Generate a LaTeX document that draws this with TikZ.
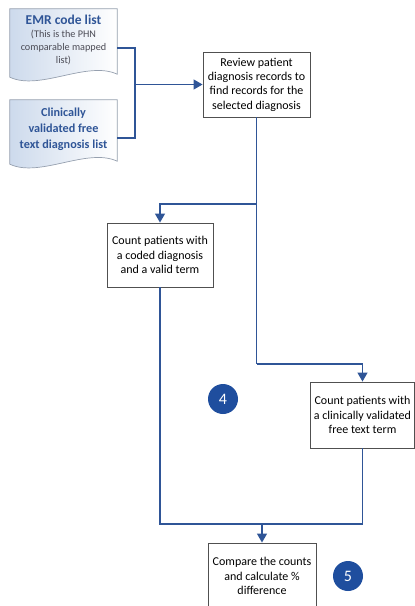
\documentclass[tikz,border=0pt]{standalone}
\usepackage{fontspec}
\setmainfont{Carlito}
\usetikzlibrary{arrows.meta,calc,backgrounds}

\definecolor{flowblue}{RGB}{47,85,151}
\definecolor{dotblue}{RGB}{31,78,158}
\definecolor{docedge}{RGB}{150,160,175}
\definecolor{docshade}{RGB}{205,218,236}
\definecolor{boxedge}{RGB}{80,80,80}
\definecolor{notegray}{RGB}{75,75,85}

\tikzset{
  stepbox/.style={draw=boxedge, line width=0.9pt, fill=white, align=center,
    inner sep=1pt, font=\fontsize{12}{14.3}\selectfont},
  doctext/.style={align=center, text=flowblue, inner sep=0pt},
  docline/.style={draw=docedge, line width=0.7pt, left color=docshade, right color=white},
  link/.style={draw=flowblue, line width=1.4pt},
  arrowlink/.style={link, -{Triangle[length=9pt,width=10pt]}},
  badge/.style={circle, fill=dotblue, text=white, minimum size=30pt, inner sep=0pt,
    font=\fontsize{16}{16}\selectfont}
}

% outline of a document symbol round a node
\newcommand{\docpath}[1]{(#1.north west) -- (#1.north east) -- ($(#1.south east)+(0,3)$)
  .. controls +(-30,-14) and +(30,14) .. ($(#1.south west)+(0,6)$) -- cycle}

\begin{document}
\begin{tikzpicture}[x=1pt,y=-1pt]
\useasboundingbox (0,0) rectangle (415,606);
\clip (0,0) rectangle (415,606);

% source lists
\node [doctext, minimum width=107pt, minimum height=62pt,
       font=\fontsize{10.2}{13.3}\selectfont] (emr) at (63.5,40)
  {{\fontsize{13.5}{14}\selectfont\bfseries EMR code list}\\
   \textcolor{notegray}{(This is the PHN}\\
   \textcolor{notegray}{comparable mapped}\\
   \textcolor{notegray}{list)}};
\node [doctext, minimum width=107pt, minimum height=58pt,
       font=\fontsize{12.2}{16}\selectfont\bfseries] (clin) at (63.5,129)
  {Clinically\\validated free\\text diagnosis list};
\begin{scope}[on background layer]
  \path[docline] \docpath{emr};
  \path[docline] \docpath{clin};
\end{scope}

% steps
\node [stepbox, minimum width=107pt, minimum height=65pt] (review) at (256.5,84.5)
  {Review patient\\diagnosis records to\\find records for the\\selected diagnosis};
\node [stepbox, minimum width=106pt, minimum height=64pt] (coded) at (160,255)
  {Count patients with\\a coded diagnosis\\and a valid term};
\node [stepbox, minimum width=104pt, minimum height=66pt] (freetext) at (362.5,415)
  {Count patients with\\a clinically validated\\free text term};
\node [stepbox, minimum width=108pt, minimum height=66pt] (compare) at (262,576)
  {Compare the counts\\and calculate \%\\difference};

\node [badge] (four) at (223,399) {4};
\node [badge] (five) at (348,576) {5};

% connectors
\coordinate (jn) at (135,84.5);
\coordinate (sp1) at (256.5,204);
\coordinate (sp2) at (256.5,364);
\coordinate (mrg) at (262,524);

\draw[link] ([yshift=-8pt]emr.east) -| (jn) |- ([yshift=-9pt]clin.east);
\draw[arrowlink] (jn) -- (review.west);
\draw[link] (review.south) -- (sp2);
\draw[arrowlink] (sp1) -| (coded.north);
\draw[arrowlink] (sp2) -| (freetext.north);
\draw[link] (coded.south) |- (mrg) -| (freetext.south);
\draw[arrowlink] (mrg) -- (compare.north);
\end{tikzpicture}
\end{document}
